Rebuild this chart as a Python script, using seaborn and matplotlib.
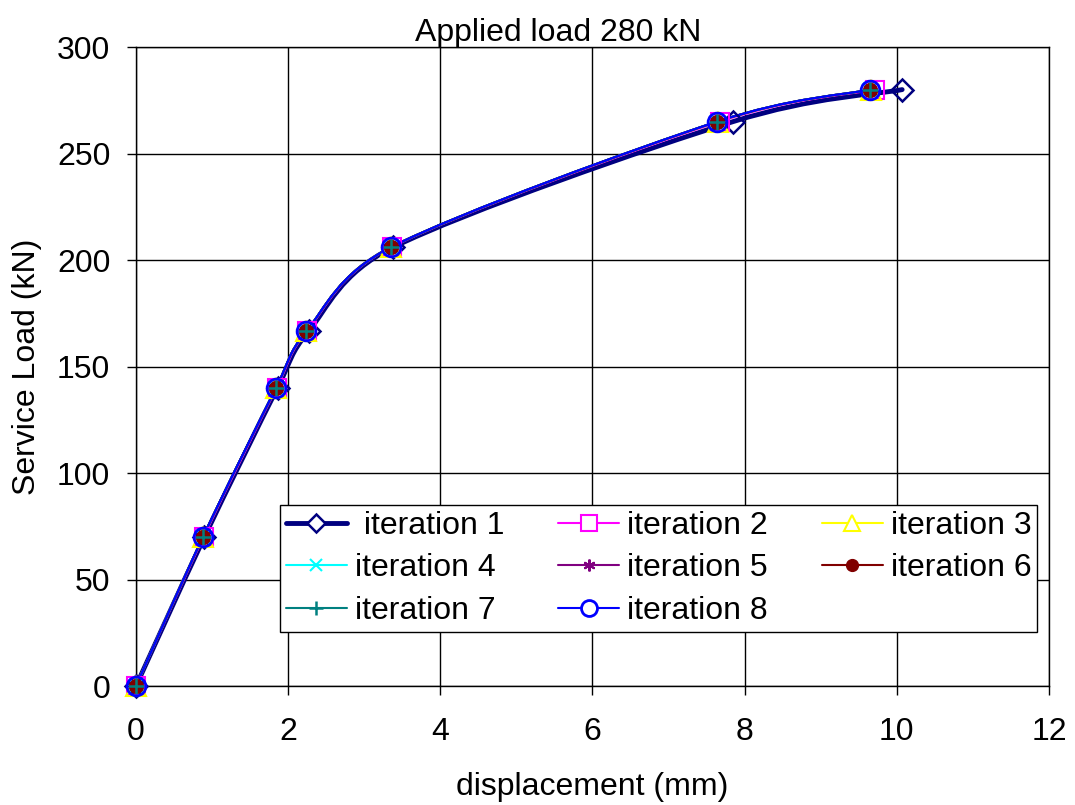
import numpy as np
import matplotlib
matplotlib.use("Agg")
import matplotlib.pyplot as plt
import seaborn as sns
from matplotlib.path import Path
from matplotlib.patches import PathPatch
from matplotlib.lines import Line2D

# service load levels (kN), same for every iteration
load = [0, 70, 140, 166.6, 206, 265, 280]

# displacement (mm) read for each iteration
disp_it1 = [0, 0.90, 1.86, 2.27, 3.38, 7.85, 10.07]
disp_it2 = [0, 0.89, 1.85, 2.25, 3.36, 7.68, 9.71]
disp_it3 = [0, 0.88, 1.84, 2.24, 3.35, 7.65, 9.66]
disp_it4 = [0, 0.88, 1.84, 2.24, 3.35, 7.64, 9.65]
disp_it5 = [0, 0.88, 1.84, 2.24, 3.35, 7.64, 9.65]
disp_it6 = [0, 0.88, 1.84, 2.24, 3.35, 7.64, 9.65]
disp_it7 = [0, 0.88, 1.84, 2.24, 3.35, 7.64, 9.65]
disp_it8 = [0, 0.88, 1.84, 2.24, 3.35, 7.64, 9.65]

labels = [" iteration 1", "iteration 2", "iteration 3", "iteration 4",
          "iteration 5", "iteration 6", "iteration 7", "iteration 8"]
disps = [disp_it1, disp_it2, disp_it3, disp_it4, disp_it5, disp_it6, disp_it7, disp_it8]

# style per series (Excel-like)
styles = [
    dict(color="#000080", marker="D", ms=11, mfc="none", mew=1.8, lw=3.5),
    dict(color="#FF00FF", marker="s", ms=13, mfc="none", mew=1.5, lw=1.5),
    dict(color="#FFFF00", marker="^", ms=14, mfc="none", mew=1.5, lw=1.5),
    dict(color="#00FFFF", marker="x", ms=10, mfc="none", mew=1.5, lw=1.5),
    dict(color="#800080", marker=(6, 2, 0), ms=10, mfc="none", mew=1.5, lw=1.5),
    dict(color="#800000", marker="o", ms=10, mfc="#800000", mew=1.0, lw=1.5),
    dict(color="#008080", marker="+", ms=12, mfc="none", mew=1.8, lw=1.5),
    dict(color="#0000FF", marker="o", ms=13.5, mfc="none", mew=2.0, lw=1.5),
]

FS = 23

sns.set_style("white")
plt.rcParams["font.family"] = ["Liberation Sans", "DejaVu Sans"]
plt.rcParams["text.color"] = "black"
plt.rcParams["axes.labelcolor"] = "black"

fig, ax = plt.subplots(figsize=(10.75, 8.05), dpi=100)
fig.subplots_adjust(left=0.1265, right=0.9758, top=0.9416, bottom=0.1478)
ax.set_xlim(0, 12)
ax.set_ylim(0, 300)

# pixels per data unit, so the smoothing is done in screen space like Excel
bb = ax.get_window_extent()
sx = bb.width / 12.0
sy = bb.height / 300.0


def smooth_path(xs, ys):
    # Excel style smoothed line: bezier segments, control arm capped at half segment
    pts = np.column_stack([np.array(xs) * sx, np.array(ys) * sy]).astype(float)
    n = len(pts)
    tang = []
    for i in range(n):
        p0 = pts[max(i - 1, 0)]
        p2 = pts[min(i + 1, n - 1)]
        tang.append((p2 - p0) / 6.0)
    verts = [pts[0]]
    codes = [Path.MOVETO]
    for i in range(n - 1):
        seg = np.linalg.norm(pts[i + 1] - pts[i])
        t1 = tang[i]
        t2 = tang[i + 1]
        if np.linalg.norm(t1) > seg / 2:
            t1 = t1 / np.linalg.norm(t1) * seg / 2
        if np.linalg.norm(t2) > seg / 2:
            t2 = t2 / np.linalg.norm(t2) * seg / 2
        verts += [pts[i] + t1, pts[i + 1] - t2, pts[i + 1]]
        codes += [Path.CURVE4] * 3
    verts = np.array(verts) / [sx, sy]
    return Path(verts, codes)


# smoothed lines
for d, st in zip(disps, styles):
    ax.add_patch(PathPatch(smooth_path(d, load), fill=False, edgecolor=st["color"],
                           lw=st["lw"], zorder=2, capstyle="round"))

# markers
for d, st in zip(disps, styles):
    sns.lineplot(x=d, y=load, ax=ax, sort=False, estimator=None, linestyle="none",
                 marker=st["marker"], markersize=st["ms"], markerfacecolor=st["mfc"],
                 markeredgecolor=st["color"], markeredgewidth=st["mew"],
                 color=st["color"], zorder=3, clip_on=False)

ax.set_xlim(0, 12)
ax.set_ylim(0, 300)
ax.set_xticks(np.arange(0, 13, 2))
ax.set_yticks(np.arange(0, 301, 50))
ax.grid(True, color="black", lw=1.0)
ax.set_axisbelow(True)
for s in ax.spines.values():
    s.set_color("black")
    s.set_linewidth(1.0)
ax.tick_params(axis="both", direction="out", length=6.5, width=1, colors="black",
               labelsize=FS, left=True, bottom=True)
ax.tick_params(axis="x", pad=16)
ax.tick_params(axis="y", pad=12)

ax.set_title("Applied load 280 kN", fontsize=FS, pad=4, x=0.462)
ax.set_xlabel("displacement (mm)", fontsize=FS, labelpad=18)
ax.set_ylabel("Service Load (kN)", fontsize=FS, labelpad=11)

# legend, row-wise order like Excel (matplotlib fills by column)
handles = []
for st, lab in zip(styles, labels):
    handles.append(Line2D([], [], color=st["color"], lw=st["lw"], marker=st["marker"],
                          ms=st["ms"] * 0.85, mfc=st["mfc"] if st["mfc"] != "none" else "white",
                          mec=st["color"], mew=st["mew"], label=lab))
order = [0, 3, 6, 1, 4, 7, 2, 5]
leg = ax.legend([handles[i] for i in order], [labels[i] for i in order], ncol=3,
                loc="lower right", bbox_to_anchor=(0.987, 0.0845), fontsize=FS,
                frameon=True, fancybox=False, framealpha=1, edgecolor="black",
                handlelength=1.9, handletextpad=0.25, columnspacing=1.7,
                labelspacing=0.4, borderpad=0.18, borderaxespad=0)
leg.get_frame().set_linewidth(1.0)

plt.savefig("out.png", dpi=100)
